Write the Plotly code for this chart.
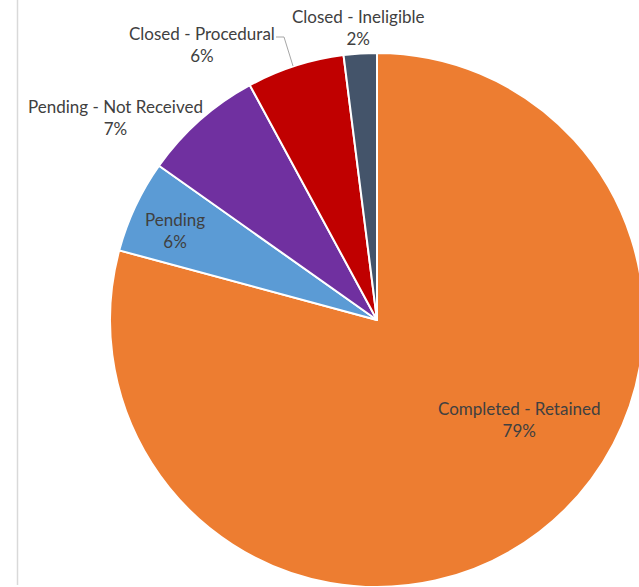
import plotly.graph_objects as go

labels = ["Completed - Retained", "Pending", "Pending - Not Received",
          "Closed - Procedural", "Closed - Ineligible"]
values = [79.2, 5.6, 7.3, 5.9, 2.0]
colors = ["#ED7D31", "#5B9BD5", "#7030A0", "#C00000", "#44546A"]

W, H = 645, 587
total = sum(values)
pcts = [f"{round(v / total * 100)}%" for v in values]

# label block centres in pixels (x from left, y from top)
label_pos = [(519, 419), (175, 231), (115, 117), (202, 44), (358, 27)]


def p2x(px):
    return px / W


def p2y(py):
    return 1 - py / H


fig = go.Figure(go.Pie(
    labels=labels, values=values, sort=False, direction="clockwise", rotation=0,
    marker=dict(colors=colors, line=dict(color="white", width=2)),
    textinfo="none", hoverinfo="label+percent", showlegend=False,
    domain=dict(x=[p2x(110), p2x(644)], y=[0.0, p2y(53)]),
))

annotations = []
for lab, pct, (px, py) in zip(labels, pcts, label_pos):
    annotations.append(dict(
        x=p2x(px), y=p2y(py), xref="paper", yref="paper",
        text=f"{lab}<br>{pct}", showarrow=False, xanchor="center", yanchor="middle",
        font=dict(family="Lato, 'Open Sans', sans-serif", size=17, color="#404040"),
        align="center",
    ))

shapes = [
    dict(type="line", xref="paper", yref="paper", x0=p2x(17.5), x1=p2x(17.5),
         y0=p2y(0), y1=p2y(585), line=dict(color="#D9D9D9", width=1.5)),
    dict(type="path", xref="paper", yref="paper",
         path=f"M {p2x(276)} {p2y(37)} L {p2x(284)} {p2y(37)} L {p2x(293)} {p2y(66)}",
         line=dict(color="#A6A6A6", width=1)),
]

fig.update_layout(
    width=W, height=H, margin=dict(l=0, r=0, t=0, b=0),
    paper_bgcolor="white", plot_bgcolor="white",
    annotations=annotations, shapes=shapes,
)

fig.write_html(
    "out.html",
    config={"displayModeBar": False},
    post_script="document.body.style.margin='0';document.body.style.overflow='hidden';"
                "document.documentElement.style.overflow='hidden';",
)
